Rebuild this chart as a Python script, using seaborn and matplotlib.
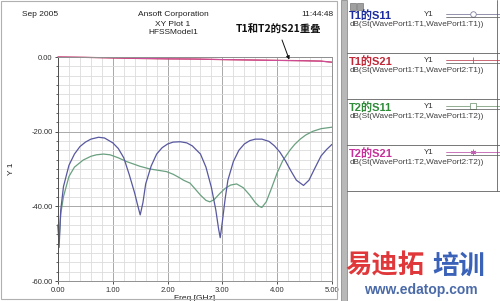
import matplotlib
matplotlib.use("Agg")
import matplotlib.pyplot as plt
import matplotlib.lines as mlines
import matplotlib.patches as mpatches
from matplotlib.ticker import MultipleLocator
import numpy as np
import pandas as pd
import seaborn as sns

# ---------------- data ----------------
freq_t1s11 = [0.00, 0.02, 0.05, 0.10, 0.20, 0.30, 0.40, 0.50, 0.60, 0.74, 0.85, 1.00, 1.10, 1.20,
              1.30, 1.40, 1.45, 1.50, 1.55, 1.60, 1.70, 1.80, 1.90, 2.00, 2.10, 2.23, 2.35, 2.45,
              2.60, 2.70, 2.80, 2.88, 2.93, 2.96, 3.00, 3.05, 3.10, 3.20, 3.30, 3.40, 3.50, 3.60,
              3.72, 3.85, 3.95, 4.05, 4.15, 4.25, 4.35, 4.48, 4.58, 4.68, 4.80, 4.90, 5.00]
s11_t1 = [-45.0, -51.0, -41.0, -34.7, -29.0, -26.0, -24.0, -22.8, -22.0, -21.5, -21.7, -23.0, -24.5, -27.0,
          -31.5, -36.5, -39.5, -42.3, -39.0, -34.0, -29.2, -26.0, -24.3, -23.3, -22.8, -22.7, -23.0, -23.8,
          -26.0, -29.5, -35.0, -41.0, -46.0, -48.4, -44.0, -38.0, -33.0, -28.0, -25.0, -23.3, -22.4, -22.0,
          -22.0, -22.6, -23.8, -25.5, -27.8, -30.5, -33.0, -34.4, -33.0, -30.0, -26.5, -24.8, -23.4]

freq_t2s11 = [0.00, 0.02, 0.05, 0.10, 0.20, 0.30, 0.46, 0.60, 0.70, 0.83, 0.95, 1.10, 1.25, 1.50, 1.68, 1.85, 1.98,
              2.10, 2.20, 2.29, 2.41, 2.50, 2.60, 2.70, 2.77, 2.85, 2.95, 3.05, 3.15, 3.26, 3.38, 3.50,
              3.60, 3.67, 3.72, 3.80, 3.90, 4.00, 4.10, 4.23, 4.32, 4.42, 4.52, 4.65, 4.80, 5.00]
s11_t2 = [-45.0, -49.0, -42.0, -37.4, -32.0, -29.5, -27.6, -26.6, -26.2, -26.0, -26.2, -27.0, -28.0, -29.3, -30.0, -30.4, -30.7,
          -31.4, -32.2, -33.0, -33.8, -35.3, -37.0, -38.4, -38.8, -38.2, -36.6, -35.2, -34.3, -34.0, -35.0, -37.0,
          -39.0, -40.0, -40.3, -38.8, -35.0, -31.0, -27.8, -25.0, -23.4, -22.0, -20.9, -19.9, -19.2, -18.8]

freq_s21 = [0.00, 0.50, 1.00, 1.50, 2.00, 2.50, 3.00, 3.50, 4.00, 4.50, 4.80, 5.00]
s21_t1 = [0.00, -0.10, -0.25, -0.40, -0.50, -0.55, -0.70, -0.80, -0.90, -1.00, -1.10, -1.40]
s21_t2 = [0.00, -0.10, -0.22, -0.38, -0.48, -0.55, -0.68, -0.80, -0.92, -1.02, -1.12, -1.40]

x_ticks = [0.0, 1.0, 2.0, 3.0, 4.0, 5.0]
y_ticks = [0.0, -20.0, -40.0, -60.0]

legend_names = ["T1的S11", "T1的S21", "T2的S11", "T2的S21"]
legend_exprs = ["dB(St(WavePort1:T1,WavePort1:T1))",
                "dB(St(WavePort1:T1,WavePort2:T1))",
                "dB(St(WavePort1:T2,WavePort1:T2))",
                "dB(St(WavePort1:T2,WavePort2:T2))"]

# ---------------- styling ----------------
sns.set_theme(style="white")
plt.rcParams['font.family'] = ['Liberation Sans', 'Noto Sans CJK SC', 'DejaVu Sans']

W, H = 500, 301
fig = plt.figure(figsize=(5.0, 3.01), dpi=100)
fig.patch.set_facecolor("white")

def fx(px):
    return px / W

def fy(py):
    return 1 - py / H

col_t1s11_curve = "#5858a0"
col_t2s11_curve = "#6aa080"
col_t1s21 = "#c03048"
col_t2s21 = "#d050a0"

leg_cols = ["#1c2ca0", "#c02838", "#2f8a3a", "#c8309a"]
leg_line_cols = ["#8080a0", "#c05060", "#80a080", "#c060b0"]
leg_markers = ["o", "|", "s", (6, 2, 0)]

ax = fig.add_axes([fx(58), fy(281), fx(332) - fx(58), fy(57) - fy(281)])
ax.set_facecolor("white")

df1 = pd.DataFrame({"Freq": freq_t1s11, "Y": s11_t1})
df2 = pd.DataFrame({"Freq": freq_t2s11, "Y": s11_t2})
df3 = pd.DataFrame({"Freq": freq_s21, "Y": s21_t1})
df4 = pd.DataFrame({"Freq": freq_s21, "Y": s21_t2})

sns.lineplot(data=df2, x="Freq", y="Y", ax=ax, color=col_t2s11_curve, lw=0.9, sort=False, clip_on=False)
sns.lineplot(data=df1, x="Freq", y="Y", ax=ax, color=col_t1s11_curve, lw=0.9, sort=False, clip_on=False)
sns.lineplot(data=df3, x="Freq", y="Y", ax=ax, color=col_t1s21, lw=0.9, sort=False, clip_on=False)
sns.lineplot(data=df4, x="Freq", y="Y", ax=ax, color=col_t2s21, lw=0.7, sort=False, clip_on=False)

ax.set_xlim(0, 5)
ax.set_ylim(-60, 0)
ax.set_xticks(x_ticks)
ax.set_yticks(y_ticks)
ax.set_xticklabels([f"{v:.2f}" for v in x_ticks], fontsize=5.5)
ax.set_yticklabels([f"{v:.2f}" if v != 0 else "0.00" for v in y_ticks], fontsize=5.5)
ax.xaxis.set_minor_locator(MultipleLocator(0.2))
ax.yaxis.set_minor_locator(MultipleLocator(2.5))
ax.grid(which="major", color="#a8a8a8", lw=0.7)
ax.grid(which="minor", color="#dcdcdc", lw=0.6)
ax.set_axisbelow(True)
ax.tick_params(axis="both", which="major", direction="out", length=2.5, width=0.6, pad=1.5, colors="#303030",
               left=True, bottom=True)
ax.tick_params(axis="y", which="minor", direction="out", length=1.5, width=0.5, left=True)
for s in ax.spines.values():
    s.set_color("#909090")
    s.set_linewidth(0.7)
ax.spines["left"].set_color("#505050")
ax.set_xlabel("Freq [GHz]", fontsize=6, labelpad=1, color="#202020")
ax.set_ylabel("Y 1", fontsize=6, labelpad=12, color="#202020")

# headers
fig.text(fx(22), fy(15), "Sep 2005", fontsize=6, ha="left", va="center", color="#202020")
fig.text(fx(173), fy(15), "Ansoft Corporation", fontsize=6, ha="center", va="center", color="#202020")
fig.text(fx(173), fy(24), "XY Plot 1", fontsize=6, ha="center", va="center", color="#202020")
fig.text(fx(173), fy(33), "HFSSModel1", fontsize=6, ha="center", va="center", color="#202020")
fig.text(fx(333), fy(15), "11:44:48", fontsize=6, ha="right", va="center", color="#202020")

ax.annotate("T1和T2的S21重叠", xy=(4.22, -0.7), xycoords="data",
            xytext=(fx(278), fy(29)), textcoords="figure fraction",
            fontsize=7.5, fontweight="bold", ha="center", va="center", color="#101010",
            family=['Noto Sans CJK SC', 'DejaVu Sans'],
            arrowprops=dict(arrowstyle="-|>", color="#101010", lw=0.7, mutation_scale=5,
                            shrinkA=2, shrinkB=0))

# frames
fig.add_artist(mpatches.Rectangle((fx(1), fy(299)), fx(337) - fx(1), fy(1) - fy(299),
                                  transform=fig.transFigure, fill=False, ec="#b0b0b0", lw=0.8))
fig.add_artist(mpatches.Rectangle((fx(341), 0), fx(347) - fx(341), 1,
                                  transform=fig.transFigure, fc="#b8b8b8", ec="#808080", lw=0.5))

# legend panel
fig.add_artist(mpatches.Rectangle((fx(350), fy(10)), fx(6), fy(3) - fy(10),
                                  transform=fig.transFigure, fc="#a0a0a0", ec="#606060", lw=0.4))
fig.add_artist(mpatches.Rectangle((fx(357), fy(10)), fx(6), fy(3) - fy(10),
                                  transform=fig.transFigure, fc="#a0a0a0", ec="#606060", lw=0.4))
row_tops = [6, 52, 98, 144]
for i, (name, expr) in enumerate(zip(legend_names, legend_exprs)):
    t = row_tops[i]
    fig.text(fx(349), fy(t + 10), name, fontsize=8, fontweight="bold", color=leg_cols[i],
             ha="left", va="center", family=['Liberation Sans', 'Noto Sans CJK SC'])
    fig.text(fx(424), fy(t + 9), "Y1", fontsize=5.8, color="#303030", ha="left", va="center")
    fig.add_artist(mlines.Line2D([fx(446), fx(500)], [fy(t + 8), fy(t + 8)], transform=fig.transFigure,
                                 color=leg_line_cols[i], lw=0.6))
    fig.add_artist(mlines.Line2D([fx(473)], [fy(t + 8)], transform=fig.transFigure,
                                 color=leg_line_cols[i], marker=leg_markers[i], ms=4,
                                 mfc="white" if leg_markers[i] in ("o", "s") else leg_line_cols[i], mew=0.6))
    fig.add_artist(mlines.Line2D([fx(446), fx(500)], [fy(t + 11), fy(t + 11)], transform=fig.transFigure,
                                 color="#505050", lw=0.5))
    fig.text(fx(350), fy(t + 18), expr, fontsize=5.9, color="#404040", ha="left", va="center")
    fig.add_artist(mlines.Line2D([fx(347), fx(500)], [fy(t + 47), fy(t + 47)], transform=fig.transFigure,
                                 color="#606060", lw=0.6))
fig.add_artist(mlines.Line2D([fx(497), fx(497)], [fy(191), fy(0)], transform=fig.transFigure,
                             color="#606060", lw=0.6))

# watermark
fig.text(fx(345), fy(266), "易迪拓", fontsize=19, fontweight="bold", color="#e0383a",
         ha="left", va="center", family=['Noto Sans CJK SC'])
fig.text(fx(432), fy(266), "培训", fontsize=19, fontweight="bold", color="#3a62b8",
         ha="left", va="center", family=['Noto Sans CJK SC'])
fig.text(fx(421), fy(290), "www.edatop.com", fontsize=10, fontweight="bold", color="#4a6aa8",
         ha="center", va="center", family=['Liberation Sans'])

fig.savefig("out.png", dpi=100, facecolor="white")
